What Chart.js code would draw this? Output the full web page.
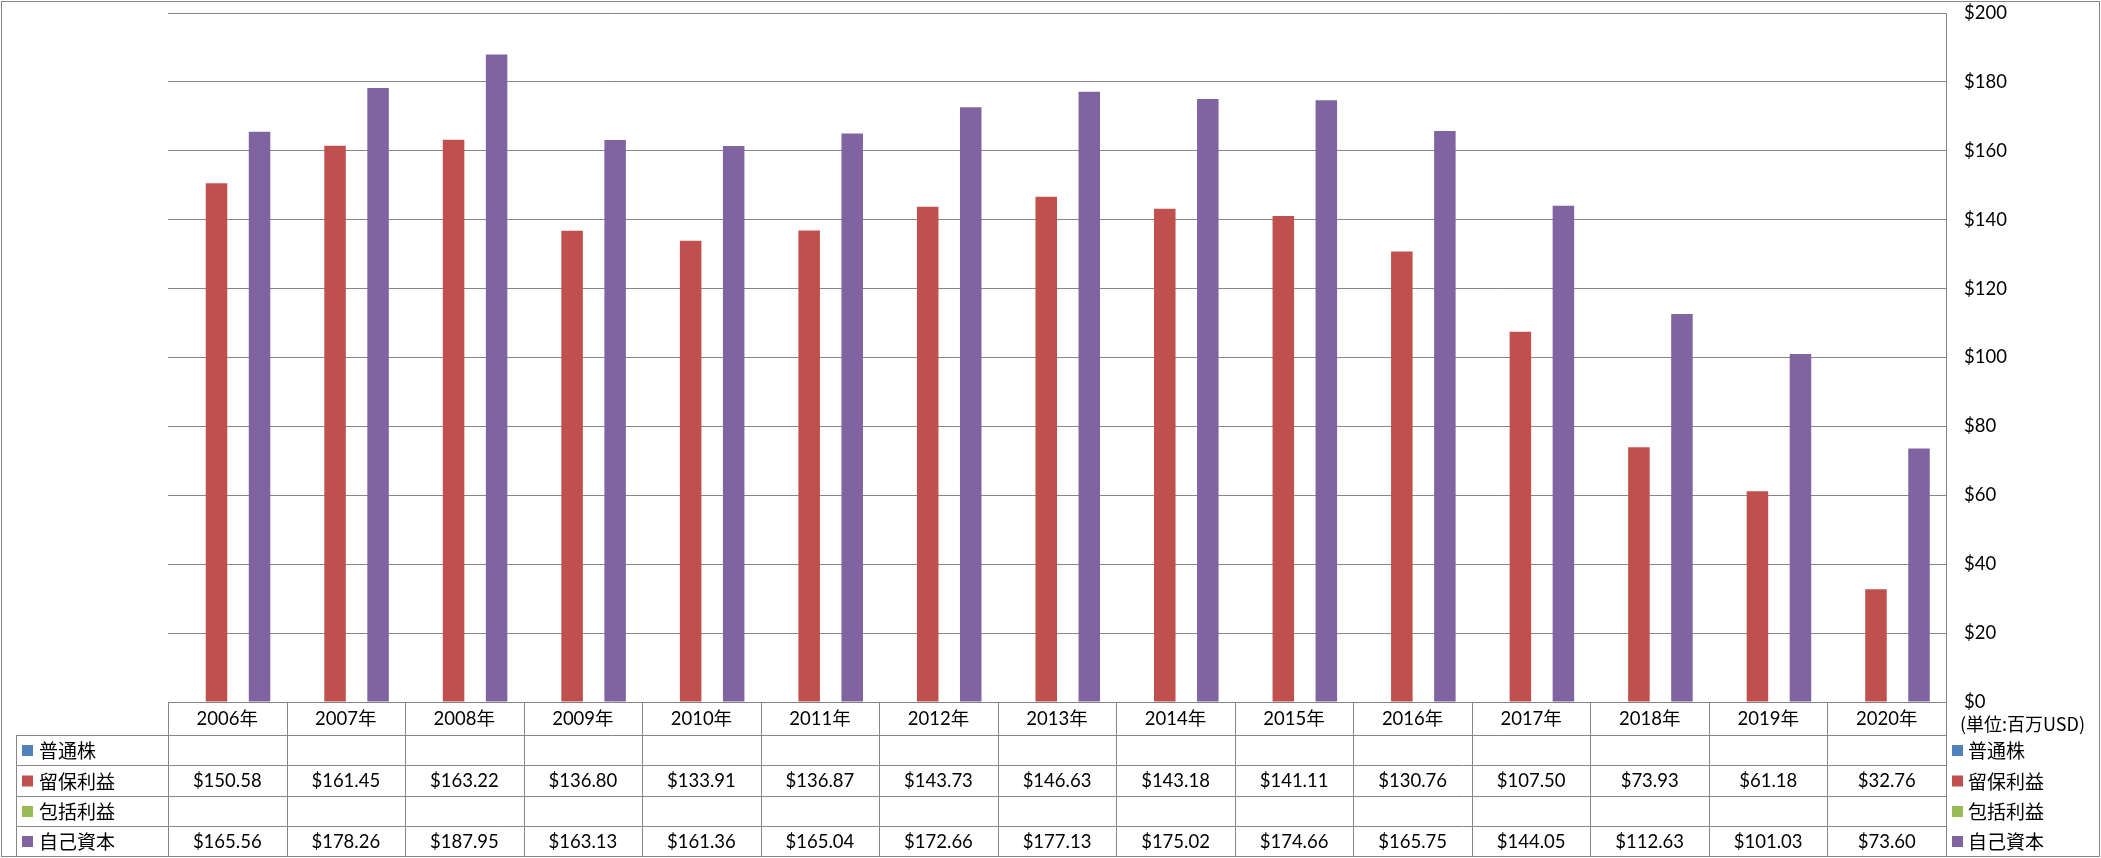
<!DOCTYPE html>
<html>
<head>
<meta charset="utf-8">
<script src="https://cdn.jsdelivr.net/npm/chart.js@4/dist/chart.umd.min.js"></script>
<style>
  body { margin: 0; background: #fff; }
  canvas { display: block; }
</style>
</head>
<body>
<canvas id="myChart" width="2101" height="858"></canvas>
<script>
// chart data
const years = ['2006年', '2007年', '2008年', '2009年', '2010年', '2011年', '2012年', '2013年', '2014年', '2015年', '2016年', '2017年', '2018年', '2019年', '2020年'];
const seriesNames = ['普通株', '留保利益', '包括利益', '自己資本'];
const commonStock = years.map(() => null);
const retainedEarnings = [150.58, 161.45, 163.22, 136.80, 133.91, 136.87, 143.73, 146.63, 143.18, 141.11, 130.76, 107.50, 73.93, 61.18, 32.76];
const comprehensiveIncome = years.map(() => null);
const equity = [165.56, 178.26, 187.95, 163.13, 161.36, 165.04, 172.66, 177.13, 175.02, 174.66, 165.75, 144.05, 112.63, 101.03, 73.60];
const unitLabel = '(単位:百万USD)';

const colors = ['#4F81BD', '#C0504D', '#9BBB59', '#8064A2'];
const gridColor = '#868686';
const numFont = '18.5px Lato, "Noto Sans CJK JP"';
const jpFont = '19px "Noto Sans CJK JP"';

const allSeries = [commonStock, retainedEarnings, comprehensiveIncome, equity];

const fmt = v => (v == null ? '' : '$' + v.toFixed(2));

// draws the data table + right legend, like excel
const dataTable = {
  id: 'dataTable',
  afterDraw(chart) {
    const c = chart.ctx;
    const x = chart.scales.x;
    const area = chart.chartArea;
    const w = (area.right - area.left) / years.length;
    const rows = [702, 735, 765, 796, 826, 856];
    const leftX = 16;
    c.save();
    c.strokeStyle = gridColor;
    c.lineWidth = 1;
    // horizontal lines
    for (let r = 1; r < rows.length; r++) {
      c.beginPath();
      c.moveTo(r == 1 ? area.left : leftX, rows[r] + 0.5);
      c.lineTo(area.right, rows[r] + 0.5);
      if (r == 1) { c.moveTo(leftX, rows[1] + 0.5); c.lineTo(area.left, rows[1] + 0.5); }
      c.stroke();
    }
    // vertical lines
    for (let i = 0; i <= years.length; i++) {
      const px = Math.round(area.left + i * w) + 0.5;
      c.beginPath();
      c.moveTo(px, rows[0]);
      c.lineTo(px, rows[5]);
      c.stroke();
    }
    c.beginPath();
    c.moveTo(leftX + 0.5, rows[1]);
    c.lineTo(leftX + 0.5, rows[5]);
    c.stroke();

    c.fillStyle = '#000';
    c.textAlign = 'center';
    c.textBaseline = 'middle';
    c.font = numFont;
    years.forEach((y, i) => {
      const cx = x.getPixelForValue(i);
      c.fillText(y, cx, (rows[0] + rows[1]) / 2 + 1);
      allSeries.forEach((s, k) => {
        c.fillText(fmt(s[i]), cx, (rows[k + 1] + rows[k + 2]) / 2 + 1);
      });
    });

    // legend keys (left in table, right outside)
    c.textAlign = 'left';
    c.font = jpFont;
    seriesNames.forEach((name, k) => {
      const cy = (rows[k + 1] + rows[k + 2]) / 2;
      c.fillStyle = colors[k];
      c.fillRect(22, cy - 5, 11, 11);
      c.fillRect(1952, cy - 5, 11, 11);
      c.fillStyle = '#000';
      c.fillText(name, 39, cy + 1);
      c.fillText(name, 1968, cy + 1);
    });

    c.font = '18px "Noto Sans CJK JP"';
    c.fillText(unitLabel, 1960, 724);

    // outer border
    c.strokeStyle = gridColor;
    c.strokeRect(1.5, 1.5, 2098, 855);
    c.restore();
  }
};

const ctx = document.getElementById('myChart');

new Chart(ctx, {
  type: 'bar',
  data: {
    labels: years,
    datasets: allSeries.map((s, k) => ({
      label: seriesNames[k],
      data: s,
      backgroundColor: colors[k],
      borderWidth: 0,
      categoryPercentage: 0.726,
      barPercentage: 1.0
    }))
  },
  options: {
    responsive: false,
    devicePixelRatio: 1,
    animation: false,
    layout: { padding: { left: 168, top: 13, bottom: 156, right: 0 } },
    plugins: {
      legend: { display: false },
      tooltip: { enabled: false }
    },
    scales: {
      x: {
        display: false
      },
      y: {
        position: 'right',
        min: 0,
        max: 200,
        afterFit(scale) {
          scale.width = 155;
          scale.paddingTop = 0;
          scale.paddingBottom = 0;
        },
        ticks: {
          stepSize: 20,
          padding: 18,
          color: '#000',
          font: { family: 'Lato', size: 18.5 },
          callback: v => '$' + v
        },
        grid: { color: gridColor, drawTicks: false },
        border: { display: true, color: gridColor }
      }
    }
  },
  plugins: [dataTable]
});
</script>
</body>
</html>
